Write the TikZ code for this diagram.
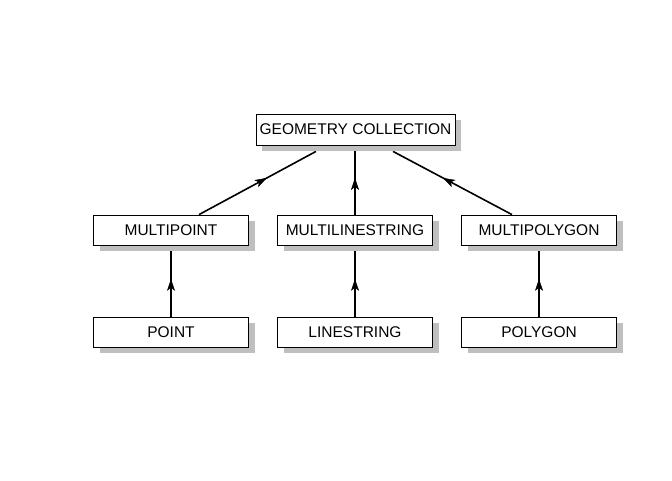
\documentclass[tikz,border=0pt]{standalone}
\usepackage{fontspec}
\setmainfont{Liberation Sans}
\usetikzlibrary{shadows,calc,arrows.meta,decorations.markings}
\pgfdeclarelayer{background}
\pgfsetlayers{background,main}
\begin{document}
\begin{tikzpicture}[x=1pt,y=1pt,
  box/.style={draw=black, line width=0.8pt, fill=white, minimum width=155pt, minimum height=30pt, inner sep=0pt,
    font=\fontsize{15.5}{18}\selectfont,
    general shadow={fill=black!25, shadow xshift=6pt, shadow yshift=-6pt}},
  conn/.style={line width=1.6pt, postaction={decorate}, decoration={markings, mark=at position 0.58 with {\arrow[line width=0.5pt]{Stealth[length=12pt,width=8pt,inset=3pt]}}}}]
\useasboundingbox (0,0) rectangle (672,-480);
\node[box, minimum width=199pt, minimum height=31pt] (gc) at (355.5,-129.5) {GEOMETRY COLLECTION};
\node[box] (mpt) at (171,-230) {MULTIPOINT};
\node[box] (mls) at (355,-230) {MULTILINESTRING};
\node[box] (mpg) at (539,-230) {MULTIPOLYGON};
\node[box] (pt) at (171,-332) {POINT};
\node[box] (ls) at (355,-332) {LINESTRING};
\node[box] (pg) at (539,-332) {POLYGON};
\begin{pgfonlayer}{background}
\draw[conn] ($(mpt.north)+(28,0)$) -- ($(gc.south)+(-39.5,-6)$);
\draw[conn] (mls.north) -- ($(mls.north |- gc.south)+(0,-6)$);
\draw[conn] ($(mpg.north)+(-27,0)$) -- ($(gc.south)+(37.5,-6)$);
\draw[conn] (pt.north) -- ($(mpt.south)+(0,-6)$);
\draw[conn] (ls.north) -- ($(mls.south)+(0,-6)$);
\draw[conn] (pg.north) -- ($(mpg.south)+(0,-6)$);
\end{pgfonlayer}
\end{tikzpicture}
\end{document}
